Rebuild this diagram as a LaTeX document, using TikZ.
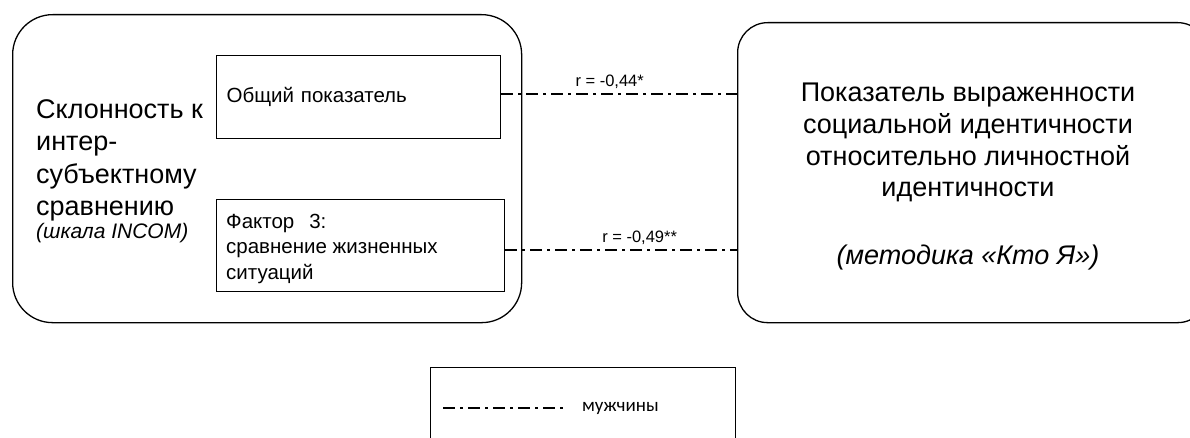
\documentclass[tikz,border=0pt]{standalone}
\usepackage{fontspec}
\usetikzlibrary{calc}
\setmainfont{Liberation Sans}
\newfontfamily\legfont{Carlito}
\begin{document}
\begin{tikzpicture}[x=1pt,y=-1pt,
  outer/.style={draw, line width=1.3pt, rectangle, rounded corners=#1, anchor=north west, inner sep=0pt},
  inbox/.style={draw, line width=1.2pt, rectangle, anchor=north west, inner xsep=10pt, inner ysep=0pt, align=left},
  conn/.style={line width=2pt, dash pattern=on 12pt off 5pt on 3pt off 5pt},
  rlab/.style={font=\fontsize{16.5}{19}\selectfont, above=1pt},
  bigtxt/.style={font=\fontsize{27}{32.5}\selectfont, align=left, anchor=north west, inner sep=0pt}
]
\useasboundingbox (0,0) rectangle (1190,438);
\clip (0,0) rectangle (1190,438);
% outer rounded boxes
\node[outer=40pt, minimum width=509pt, minimum height=308pt] (lb) at (12,14) {};
\node[outer=30pt, minimum width=470pt, minimum height=300pt] (rb) at (737,22) {};
% left title
\node[bigtxt] (lt) at (36,99) {Склонность к\\интер-\\субъектному\\сравнению\\[-10pt]{\fontsize{21}{24}\selectfont\itshape (шкала INCOM)}};
% inner boxes
\node[inbox, minimum width=284pt, minimum height=83pt, text width=264pt, font=\fontsize{20.5}{25}\selectfont] (b1) at (216,55) {Общий показатель};
\node[inbox, minimum width=288pt, minimum height=92pt] (b2) at (216,199) {};
\node[anchor=north west, inner sep=0pt, align=left, font=\fontsize{20.5}{25.5}\selectfont] (b2t) at (226,213.5) {Фактор\hspace{15pt}3:\\сравнение жизненных\\ситуаций};
% right text
\node[font=\fontsize{27}{31.7}\selectfont, align=center, anchor=north, inner sep=0pt] (rt) at (968,83) {Показатель выраженности\\социальной идентичности\\относительно личностной\\идентичности\\[36pt]{\itshape (методика «Кто Я»)}};
% connectors
\coordinate (c1s) at ($(b1.east)+(0,-3)$);
\coordinate (c2s) at ($(b2.east)+(0,4)$);
\draw[conn] (c1s) -- (c1s -| rb.west) node[rlab, pos=0.46] (l1) {r = -0,44*};
\draw[conn] (c2s) -- (c2s -| rb.west) node[rlab, pos=0.58] (l2) {r = -0,49**};
% legend
\node[draw, line width=1.2pt, anchor=north west, minimum width=305pt, minimum height=100pt, inner sep=0pt] (leg) at (430,367) {};
\coordinate (ls) at (443,408);
\coordinate (le) at (563,408);
\draw[conn] (ls) -- (le);
\node[anchor=west, inner sep=0pt, font=\legfont\fontsize{19}{22}\selectfont] (lt2) at (582,408) {мужчины};
\end{tikzpicture}
\end{document}
